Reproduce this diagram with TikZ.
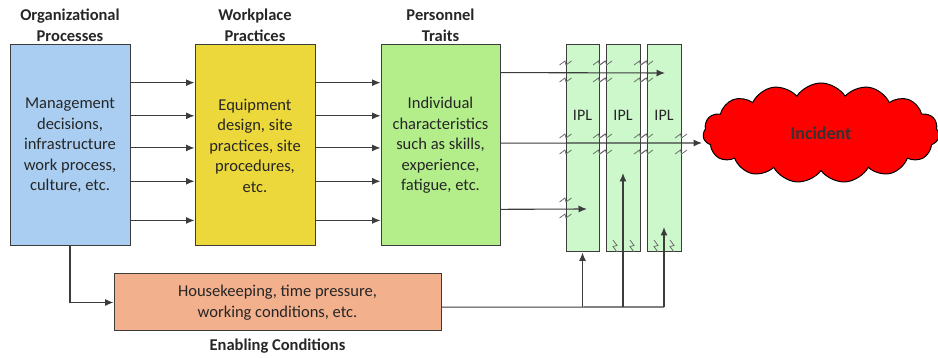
\documentclass[tikz,border=0pt]{standalone}
\usepackage{fontspec}
\setmainfont{Carlito}
\usetikzlibrary{arrows.meta,shapes.symbols,calc}

\definecolor{opblue}{HTML}{A9CEF2}
\definecolor{wpyellow}{HTML}{ECD83A}
\definecolor{ptgreen}{HTML}{B3EE8A}
\definecolor{ecorange}{HTML}{F2B08C}
\definecolor{iplgreen}{HTML}{CCF8CC}
\definecolor{incred}{HTML}{FF0000}
\definecolor{edgegray}{HTML}{3C3C3C}

\begin{document}
\begin{tikzpicture}[x=1pt,y=-1pt,
  box node/.style={draw=edgegray,line width=1pt,align=center,inner sep=0pt,text=black!85,font=\fontsize{16.5}{20.5}\selectfont},
  ipl node/.style={draw=edgegray,line width=1pt,fill=iplgreen,minimum width=33pt,minimum height=207pt,inner sep=0pt},
  title node/.style={align=center,text=black!85,font=\bfseries\fontsize{16.5}{21}\selectfont},
  label node/.style={text=black!85,font=\fontsize{16}{19}\selectfont},
  arr/.style={-{Latex[length=8.5pt,width=7pt]},line width=1.1pt,edgegray},
  brk/.pic={\draw[edgegray!75,line width=0.8pt] (-6,2) -- (-0.5,-2) -- (0.5,2) -- (6,-2);}]

\useasboundingbox (0,0) rectangle (938,358);

% boxes
\node[box node,fill=opblue,minimum width=120pt,minimum height=201pt] (org) at (70,145.5) {Management\\decisions,\\infrastructure\\work process,\\culture, etc.};
\node[box node,fill=wpyellow,minimum width=120pt,minimum height=201pt] (work) at (255,145.5) {Equipment\\design, site\\practices, site\\procedures,\\etc.};
\node[box node,fill=ptgreen,minimum width=119pt,minimum height=201pt] (pers) at (440.5,145.5) {Individual\\characteristics\\such as skills,\\experience,\\fatigue, etc.};
\node[box node,fill=ecorange,minimum width=327pt,minimum height=57pt] (enab) at (277.5,302.5) {Housekeeping, time pressure,\\working conditions, etc.};

% titles
\node[title node,anchor=south,inner sep=3pt] (t0) at (org.north) {Organizational\\Processes};
\node[title node,anchor=south,inner sep=3pt] (t1) at (work.north) {Workplace\\Practices};
\node[title node,anchor=south,inner sep=3pt] (t2) at (pers.north) {Personnel\\Traits};
\node[title node,anchor=north,inner sep=7pt] (t3) at (enab.south) {Enabling Conditions};

% protection layers
\node[ipl node] (ipl1) at (582.5,148.5) {};
\node[ipl node,minimum width=34pt] (ipl2) at (623,148.5) {};
\node[ipl node,minimum width=34pt] (ipl3) at (664,148.5) {};
\node[label node] (l1) at (ipl1 |- 0,115) {IPL};
\node[label node] (l2) at (ipl2 |- 0,115) {IPL};
\node[label node] (l3) at (ipl3 |- 0,115) {IPL};

\node[cloud,cloud puffs=15,cloud puff arc=115,cloud ignores aspect,draw=black,line width=1pt,fill=incred,minimum width=236pt,minimum height=100pt,font=\bfseries\fontsize{18}{21}\selectfont,text=black!80] (inc) at (821,133) {Incident};

% free ends
\coordinate (e1) at (665,73);
\coordinate (e2) at (702,143);
\coordinate (e3) at (587,209);
\coordinate (e4) at (623,173);
\coordinate (e5) at (664,227);
\coordinate (j1) at (ipl1.south |- 0,307);
\coordinate (j2) at (623,307);
\coordinate (j3) at (664,307);

% cut marks
\foreach \x in {565.5,599,606,640,647} {
  \pic at (\x,63) {brk};
  \pic at (\x,80) {brk};
}
\foreach \x in {565.5,599,606,640,647,681} {
  \pic at (\x,136) {brk};
  \pic at (\x,152) {brk};
}
\pic at (565.5,200) {brk};
\pic at (565.5,216) {brk};
\foreach \x in {615,632,656,672} {
  \pic[rotate=90] at (\x,246) {brk};
}

% connectors
\foreach \f in {0.189,0.353,0.512,0.677,0.871} {
  \path[arr] ($(org.north east)!\f!(org.south east)$) edge ($(work.north west)!\f!(work.south west)$);
  \path[arr] ($(work.north east)!\f!(work.south east)$) edge ($(pers.north west)!\f!(pers.south west)$);
}
\path[arr] ($(pers.north east)!0.139!(pers.south east)$) edge (e1);
\path[arr] ($(pers.north east)!0.488!(pers.south east)$) edge (e2);
\path[arr] ($(pers.north east)!0.816!(pers.south east)$) edge (e3);

\draw[arr] (org.south) |- (enab.west);
\draw[line width=1.1pt,edgegray] ($(enab.north east)!0.58!(enab.south east)$) -- (j3);
\path[arr] (j1) edge (ipl1.south);
\path[arr] (j2) edge (e4);
\path[arr] (j3) edge (e5);
\end{tikzpicture}
\end{document}
